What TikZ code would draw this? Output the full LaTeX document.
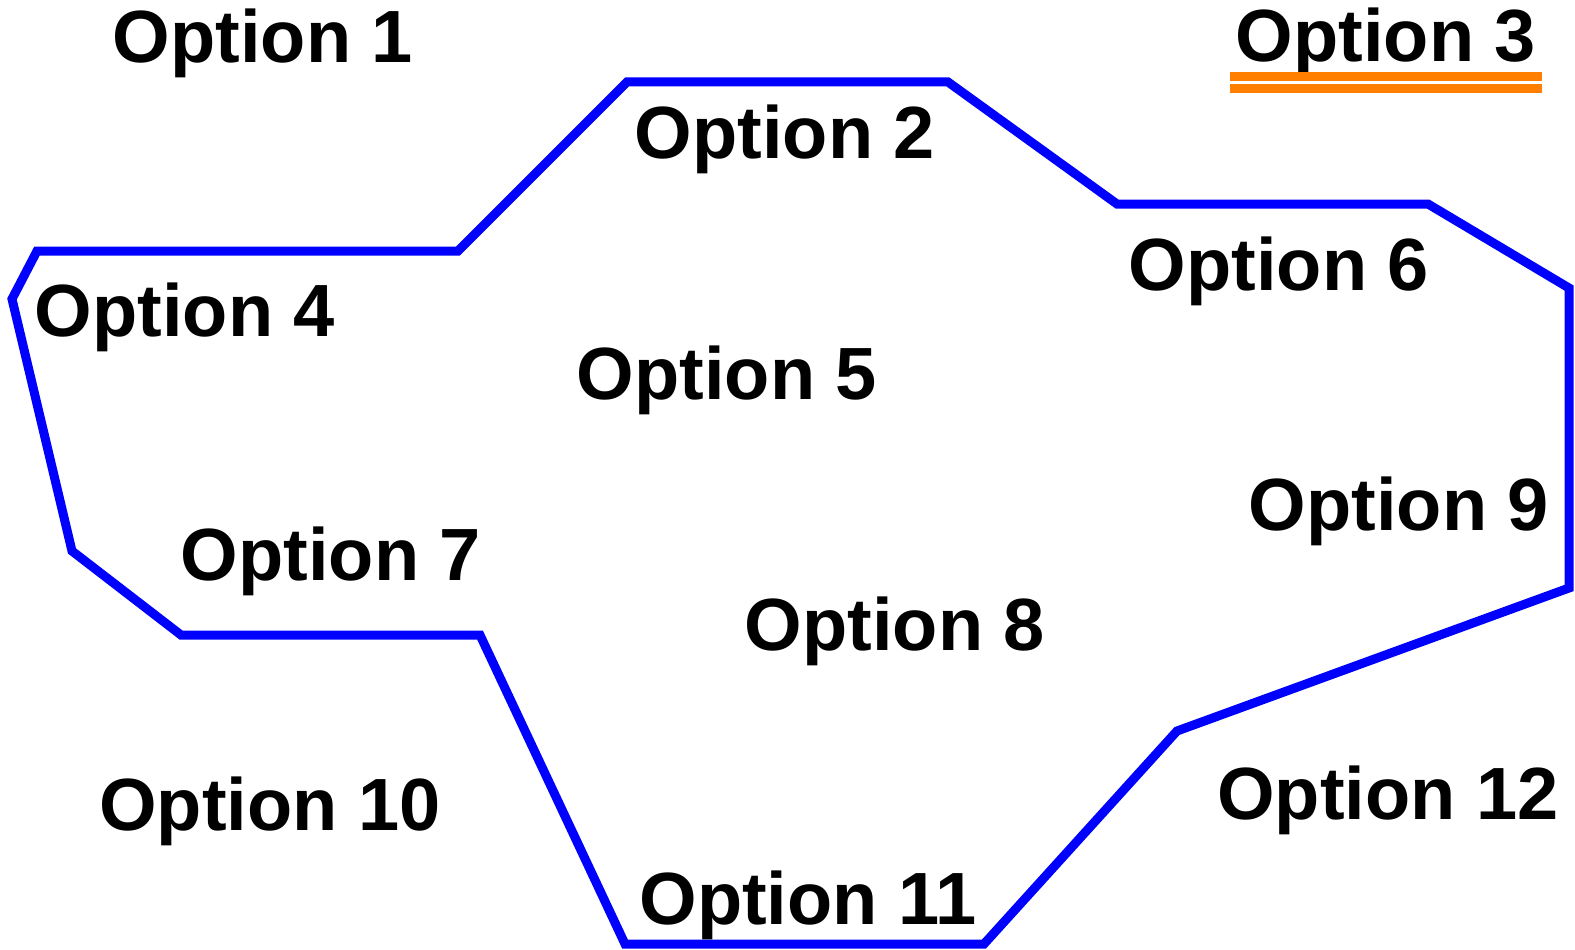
\documentclass[tikz,border=0pt]{standalone}
\usepackage{fontspec}
\setmainfont{Liberation Sans}
\definecolor{pblue}{RGB}{0,0,255}
\definecolor{porange}{RGB}{255,128,0}
\begin{document}
\begin{tikzpicture}[x=1pt,y=-1pt,
  lbl/.style={inner sep=0pt,anchor=base,font=\fontsize{74}{80}\selectfont\bfseries},
  outline/.style={draw=pblue,line width=9pt,line join=miter}]
\useasboundingbox (0,0) rectangle (1575,950);
\draw[outline] (627,82) -- (948,82) -- (1117,204) -- (1428,204) -- (1569,288) -- (1569,588)
  -- (1177,731) -- (984,944) -- (625,944) -- (480,635) -- (181,635) -- (72,551)
  -- (12,299) -- (37,251) -- (458,251) -- cycle;
\node[lbl] (o1) at (263,63) {Option 1};
\node[lbl] (o2) at (785,158) {Option 2};
\node[lbl] (o3) at (1386,62) {Option 3};
\node[lbl] (o4) at (185,336) {Option 4};
\node[lbl] (o5) at (727,399) {Option 5};
\node[lbl] (o6) at (1279,290) {Option 6};
\node[lbl] (o7) at (331,580) {Option 7};
\node[lbl] (o8) at (895,650) {Option 8};
\node[lbl] (o9) at (1399,530) {Option 9};
\node[lbl] (o10) at (270,830) {Option 10};
\node[lbl] (o11) at (808,924) {Option 11};
\node[lbl] (o12) at (1388,819) {Option 12};
\fill[porange] (1230,72) rectangle (1542,81.5);
\fill[porange] (1230,84) rectangle (1542,93);
\end{tikzpicture}
\end{document}
